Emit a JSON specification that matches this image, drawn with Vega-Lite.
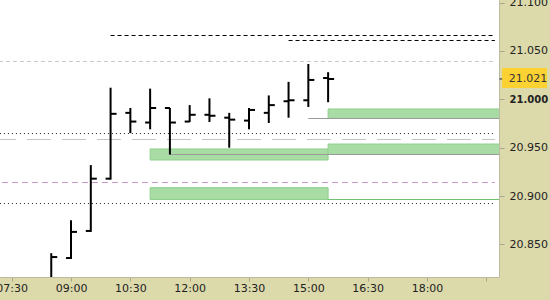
{
  "$schema": "https://vega.github.io/schema/vega-lite/v6.json",
  "width": 499,
  "height": 277,
  "autosize": {"type": "none"},
  "padding": {"left": 0, "top": 0, "right": 51, "bottom": 23},
  "background": "#dcd9ab",
  "config": {
    "font": "DejaVu Sans",
    "view": {"fill": "white", "stroke": null}
  },
  "layer": [
    {
      "data": {"values": [
        {"t0": "2024-01-02T11:00:00", "t1": "2024-01-02T15:30:00", "lo": 20.9373, "hi": 20.9487},
        {"t0": "2024-01-02T15:30:00", "t1": "2024-01-02T19:52:00", "lo": 20.94297, "hi": 20.9538},
        {"t0": "2024-01-02T11:00:00", "t1": "2024-01-02T15:30:00", "lo": 20.89648, "hi": 20.9087},
        {"t0": "2024-01-02T15:30:00", "t1": "2024-01-02T19:52:00", "lo": 20.98017, "hi": 20.990}
      ]},
      "mark": {"type": "rect", "fill": "#a8dca4", "stroke": "#8fd08b", "strokeWidth": 1, "clip": true},
      "encoding": {
        "x": {"field": "t0", "type": "temporal",
          "scale": {"domain": [{"year": 2024, "month": 1, "date": 2, "hours": 7, "minutes": 12, "seconds": 15}, {"year": 2024, "month": 1, "date": 2, "hours": 19, "minutes": 49, "seconds": 15}], "nice": false},
          "axis": {
            "title": null, "grid": false,
            "values": [
              {"year": 2024, "month": 1, "date": 2, "hours": 7, "minutes": 30},
              {"year": 2024, "month": 1, "date": 2, "hours": 9, "minutes": 0},
              {"year": 2024, "month": 1, "date": 2, "hours": 10, "minutes": 30},
              {"year": 2024, "month": 1, "date": 2, "hours": 12, "minutes": 0},
              {"year": 2024, "month": 1, "date": 2, "hours": 13, "minutes": 30},
              {"year": 2024, "month": 1, "date": 2, "hours": 15, "minutes": 0},
              {"year": 2024, "month": 1, "date": 2, "hours": 16, "minutes": 30},
              {"year": 2024, "month": 1, "date": 2, "hours": 18, "minutes": 0},
              {"year": 2024, "month": 1, "date": 2, "hours": 19, "minutes": 30}
            ],
            "labelExpr": "hours(datum.value) >= 19 ? '' : timeFormat(datum.value, '%H:%M')",
            "tickSize": 4, "tickColor": "#a9a78c", "domainColor": "#bdbb9f",
            "labelColor": "#222222", "labelFontSize": 11, "labelPadding": 1,
            "labelFlush": false, "labelOverlap": false
          }
        },
        "x2": {"field": "t1"},
        "y": {"field": "lo", "type": "quantitative",
          "scale": {"domain": [20.8164, 21.1026], "zero": false, "nice": false},
          "axis": {
            "orient": "right", "title": null, "grid": false,
            "values": [20.85, 20.9, 20.95, 21, 21.05, 21.1],
            "format": ".3f",
            "tickSize": 5, "tickColor": "#a9a78c", "domainColor": "#bdbb9f",
            "labelColor": "#222222", "labelPadding": 5,
            "labelFlush": false, "labelOverlap": false,
            "labelFontSize": {"condition": {"test": "datum.value == 21", "value": 10}, "value": 11},
            "labelFontWeight": {"condition": {"test": "datum.value == 21", "value": "bold"}, "value": "normal"}
          }
        },
        "y2": {"field": "hi"}
      }
    },
    {
      "data": {"values": [
        {"t0": "2024-01-02T07:00:00", "t1": "2024-01-02T19:43:00", "v": 21.03906}
      ]},
      "mark": {"type": "rule", "color": "#c8c8c8", "strokeWidth": 1, "strokeDash": [4, 3], "clip": true},
      "encoding": {
        "x": {"field": "t0", "type": "temporal"},
        "x2": {"field": "t1"},
        "y": {"field": "v", "type": "quantitative"}
      }
    },
    {
      "data": {"values": [
        {"t0": "2024-01-02T07:00:00", "t1": "2024-01-02T19:43:00", "v": 20.95847}
      ]},
      "mark": {"type": "rule", "color": "#c4c4c4", "strokeWidth": 1, "strokeDash": [24, 11], "clip": true},
      "encoding": {
        "x": {"field": "t0", "type": "temporal"},
        "x2": {"field": "t1"},
        "y": {"field": "v", "type": "quantitative"}
      }
    },
    {
      "data": {"values": [
        {"t0": "2024-01-02T07:00:00", "t1": "2024-01-02T19:43:00", "v": 20.91404}
      ]},
      "mark": {"type": "rule", "color": "#c896c8", "strokeWidth": 1, "strokeDash": [6, 4], "clip": true},
      "encoding": {
        "x": {"field": "t0", "type": "temporal"},
        "x2": {"field": "t1"},
        "y": {"field": "v", "type": "quantitative"}
      }
    },
    {
      "data": {"values": [
        {"t0": "2024-01-02T07:00:00", "t1": "2024-01-02T19:43:00", "v": 20.96467},
        {"t0": "2024-01-02T07:00:00", "t1": "2024-01-02T19:43:00", "v": 20.89234}
      ]},
      "mark": {"type": "rule", "color": "#222222", "strokeWidth": 1, "strokeDash": [1, 3], "clip": true},
      "encoding": {
        "x": {"field": "t0", "type": "temporal"},
        "x2": {"field": "t1"},
        "y": {"field": "v", "type": "quantitative"}
      }
    },
    {
      "data": {"values": [
        {"t0": "2024-01-02T10:00:00", "t1": "2024-01-02T19:43:00", "v": 21.06592},
        {"t0": "2024-01-02T14:30:00", "t1": "2024-01-02T19:43:00", "v": 21.06076}
      ]},
      "mark": {"type": "rule", "color": "#000000", "strokeWidth": 1, "strokeDash": [4, 3], "clip": true},
      "encoding": {
        "x": {"field": "t0", "type": "temporal"},
        "x2": {"field": "t1"},
        "y": {"field": "v", "type": "quantitative"}
      }
    },
    {
      "data": {"values": [
        {"t0": "2024-01-02T15:00:00", "t1": "2024-01-02T19:52:00", "v": 20.98017},
        {"t0": "2024-01-02T11:30:00", "t1": "2024-01-02T19:52:00", "v": 20.94297}
      ]},
      "mark": {"type": "rule", "color": "#9a9a9a", "strokeWidth": 1, "clip": true},
      "encoding": {
        "x": {"field": "t0", "type": "temporal"},
        "x2": {"field": "t1"},
        "y": {"field": "v", "type": "quantitative"}
      }
    },
    {
      "data": {"values": [
        {"t0": "2024-01-02T15:30:00", "t1": "2024-01-02T19:52:00", "v": 20.89648}
      ]},
      "mark": {"type": "rule", "color": "#72c070", "strokeWidth": 1, "clip": true},
      "encoding": {
        "x": {"field": "t0", "type": "temporal"},
        "x2": {"field": "t1"},
        "y": {"field": "v", "type": "quantitative"}
      }
    },
    {
      "data": {"name": "bars"},
      "mark": {"type": "rule", "color": "black", "strokeWidth": 2, "clip": true},
      "encoding": {
        "x": {"field": "t", "type": "temporal"},
        "y": {"field": "low", "type": "quantitative"},
        "y2": {"field": "high"}
      }
    },
    {
      "data": {"name": "bars"},
      "mark": {"type": "rule", "color": "black", "strokeWidth": 2, "x2Offset": -5, "clip": true},
      "encoding": {
        "x": {"field": "t", "type": "temporal"},
        "x2": {"field": "t"},
        "y": {"field": "open", "type": "quantitative"}
      }
    },
    {
      "data": {"name": "bars"},
      "mark": {"type": "rule", "color": "black", "strokeWidth": 2, "x2Offset": 6, "clip": true},
      "encoding": {
        "x": {"field": "t", "type": "temporal"},
        "x2": {"field": "t"},
        "y": {"field": "close", "type": "quantitative"}
      }
    },
    {
      "data": {"values": [
        {"t0": "2024-01-02T19:54:00", "t1": "2024-01-02T21:02:00", "lo": 21.0117, "hi": 21.0323}
      ]},
      "mark": {"type": "rect", "fill": "#fbd232"},
      "encoding": {
        "x": {"field": "t0", "type": "temporal"},
        "x2": {"field": "t1"},
        "y": {"field": "lo", "type": "quantitative"},
        "y2": {"field": "hi"}
      }
    },
    {
      "data": {"values": [
        {"t0": "2024-01-02T19:50:00", "t1": "2024-01-02T19:54:00", "v": 21.021}
      ]},
      "mark": {"type": "rule", "color": "#222222", "strokeWidth": 1},
      "encoding": {
        "x": {"field": "t0", "type": "temporal"},
        "x2": {"field": "t1"},
        "y": {"field": "v", "type": "quantitative"}
      }
    },
    {
      "data": {"values": [
        {"t": "2024-01-02T20:04:00", "v": 21.021, "label": "21.021"}
      ]},
      "mark": {"type": "text", "align": "left", "baseline": "middle", "fontSize": 11, "color": "#333333"},
      "encoding": {
        "x": {"field": "t", "type": "temporal"},
        "y": {"field": "v", "type": "quantitative"},
        "text": {"field": "label"}
      }
    }
  ],
  "datasets": {
    "bars": [
      {"t": "2024-01-02T08:30:00", "open": 20.812, "high": 20.841, "low": 20.800, "close": 20.837},
      {"t": "2024-01-02T09:00:00", "open": 20.836, "high": 20.875, "low": 20.835, "close": 20.863},
      {"t": "2024-01-02T09:30:00", "open": 20.864, "high": 20.932, "low": 20.863, "close": 20.918},
      {"t": "2024-01-02T10:00:00", "open": 20.918, "high": 21.012, "low": 20.917, "close": 20.985},
      {"t": "2024-01-02T10:30:00", "open": 20.986, "high": 20.991, "low": 20.965, "close": 20.977},
      {"t": "2024-01-02T11:00:00", "open": 20.976, "high": 21.011, "low": 20.969, "close": 20.991},
      {"t": "2024-01-02T11:30:00", "open": 20.991, "high": 20.991, "low": 20.94297, "close": 20.976},
      {"t": "2024-01-02T12:00:00", "open": 20.977, "high": 20.994, "low": 20.9765, "close": 20.984},
      {"t": "2024-01-02T12:30:00", "open": 20.984, "high": 21.001, "low": 20.9765, "close": 20.983},
      {"t": "2024-01-02T13:00:00", "open": 20.981, "high": 20.986, "low": 20.950, "close": 20.979},
      {"t": "2024-01-02T13:30:00", "open": 20.978, "high": 20.991, "low": 20.969, "close": 20.989},
      {"t": "2024-01-02T14:00:00", "open": 20.986, "high": 21.004, "low": 20.9755, "close": 20.994},
      {"t": "2024-01-02T14:30:00", "open": 20.998, "high": 21.018, "low": 20.981, "close": 20.999},
      {"t": "2024-01-02T15:00:00", "open": 20.999, "high": 21.0365, "low": 20.992, "close": 21.020},
      {"t": "2024-01-02T15:30:00", "open": 21.022, "high": 21.028, "low": 20.997, "close": 21.021}
    ]
  }
}
